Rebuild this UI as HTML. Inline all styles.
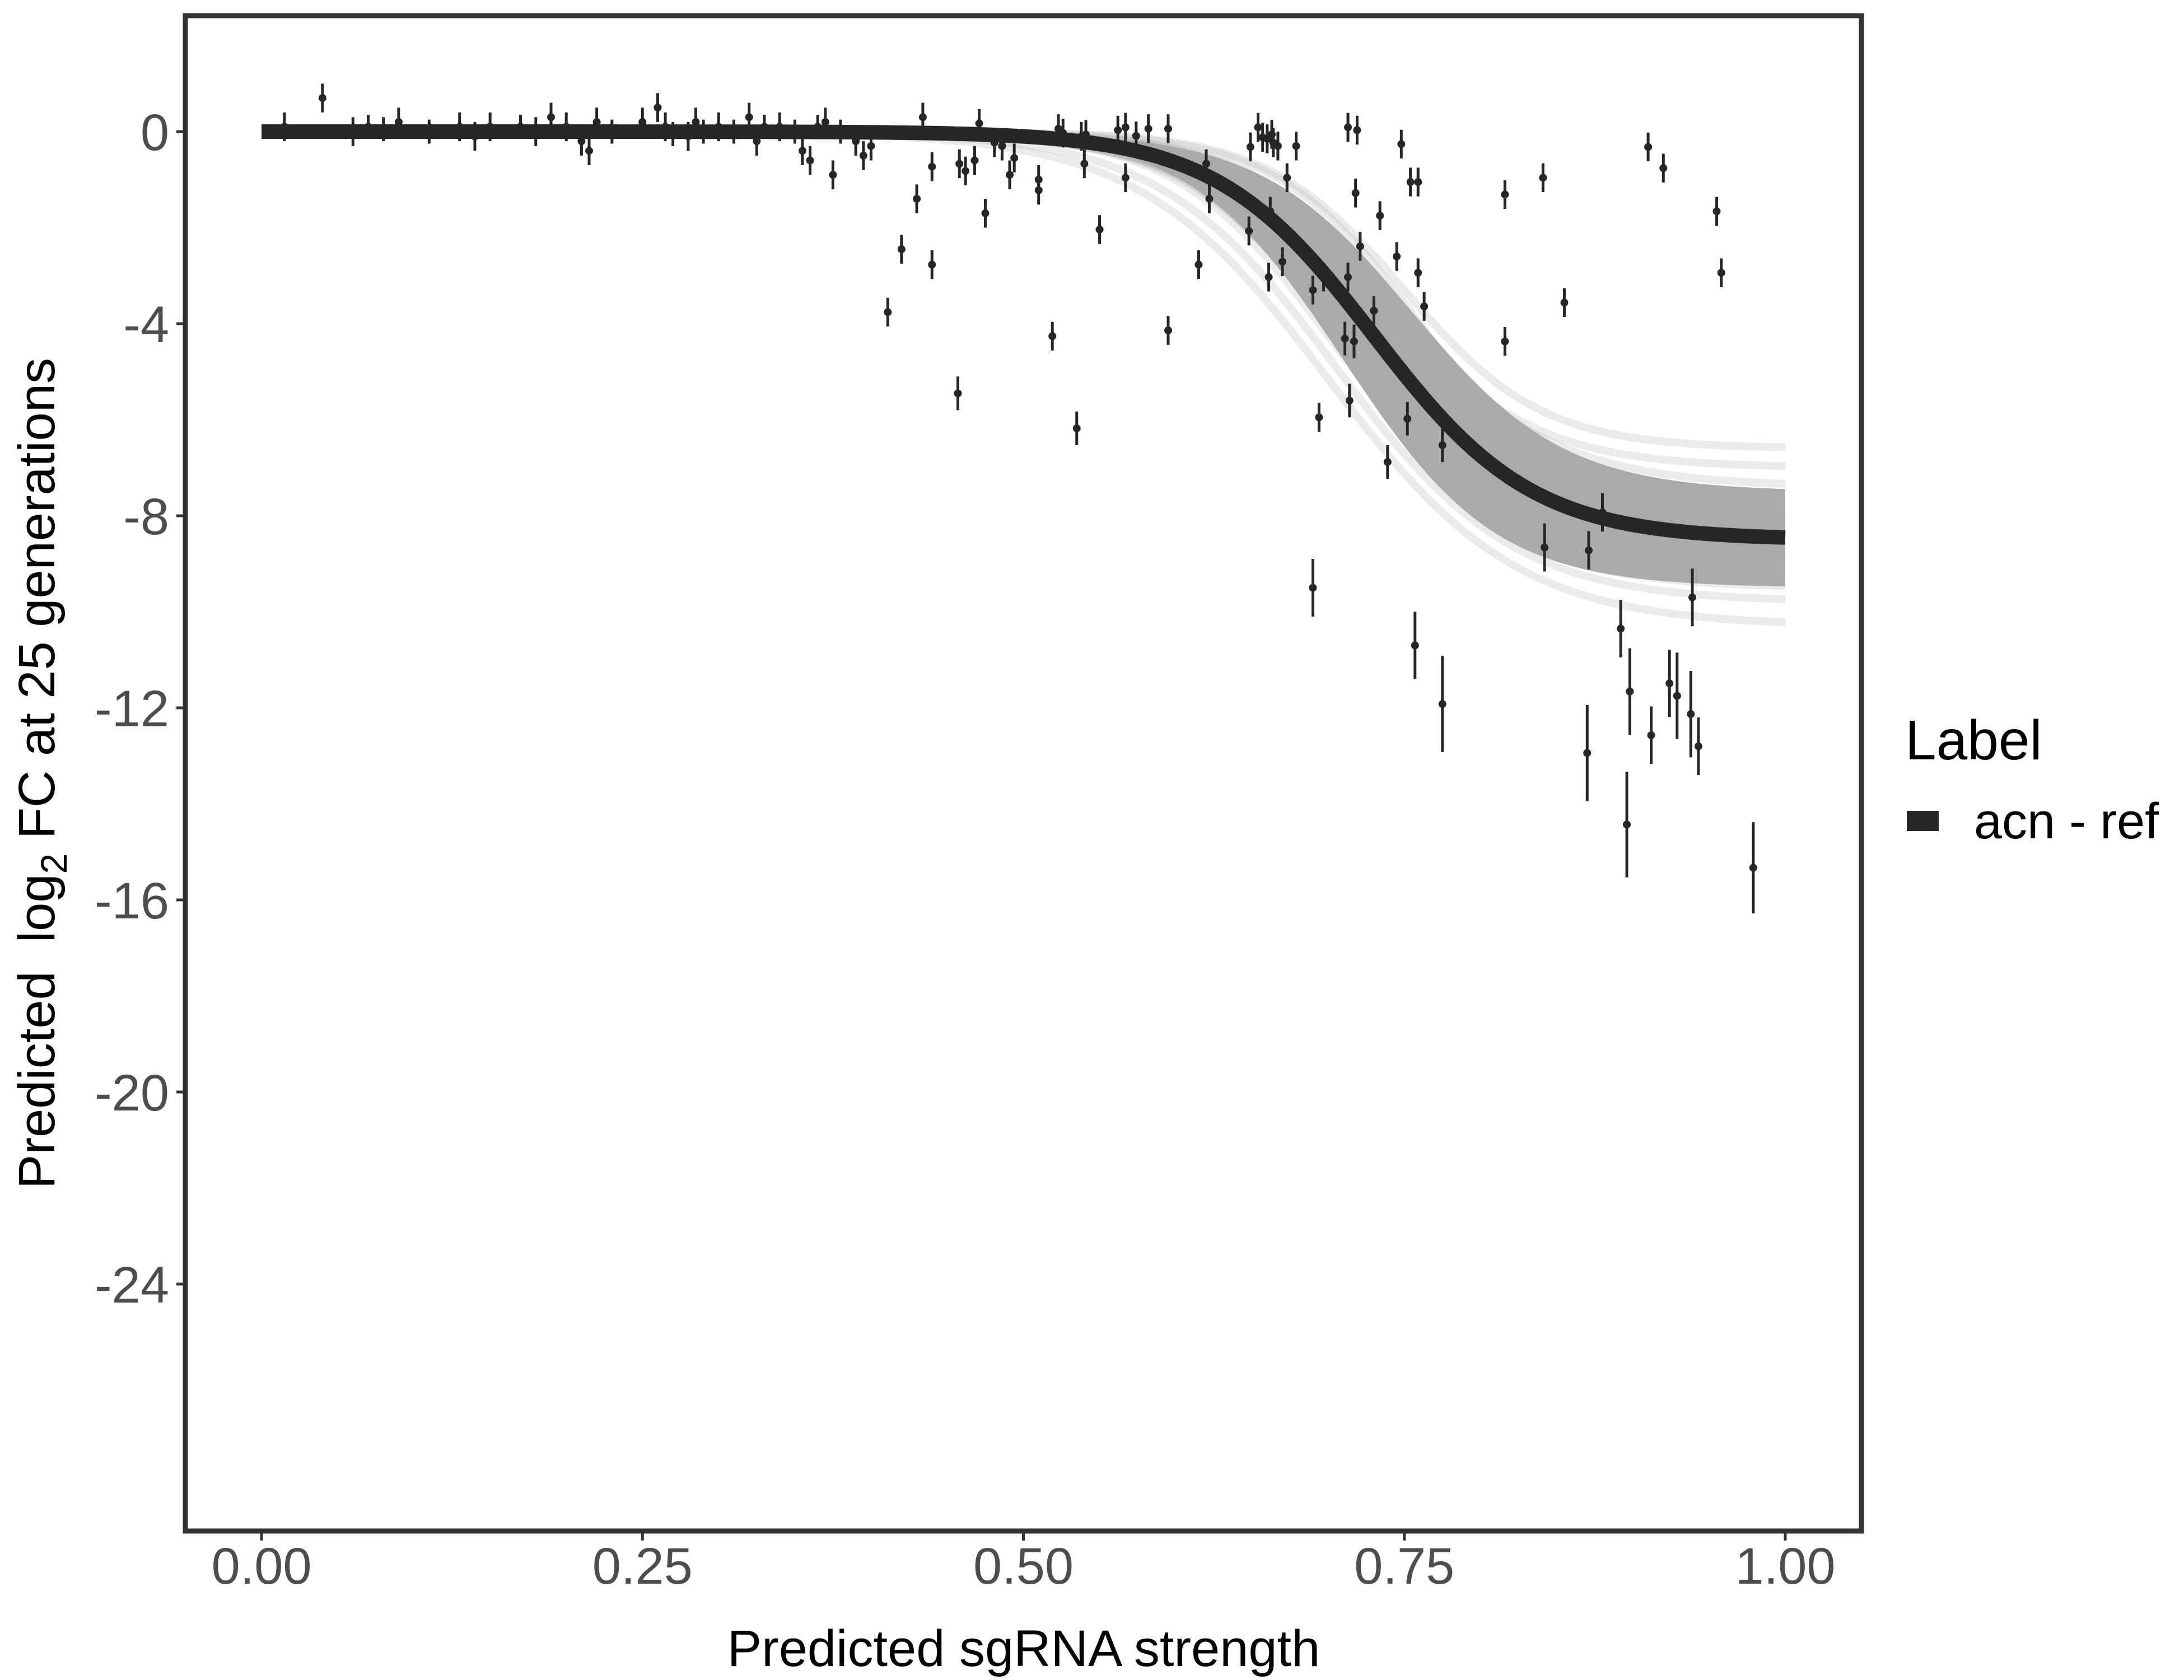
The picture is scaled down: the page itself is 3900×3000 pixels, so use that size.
<!DOCTYPE html>
<html><head><meta charset="utf-8"><style>
html,body{margin:0;padding:0;background:#fff;}
svg{display:block;font-family:"Liberation Sans",sans-serif;}
</style></head><body>
<svg id="chart" width="3900" height="3000" viewBox="0 0 3900 3000" xmlns="http://www.w3.org/2000/svg">
<rect x="0" y="0" width="3900" height="3000" fill="#fff"/>
<g id="ribbon"></g>
<g id="points"></g>
<path id="fit" fill="none" stroke="#262626" stroke-width="26"/>
<rect x="331" y="28" width="2993" height="2706" fill="none" stroke="#333" stroke-width="9"/>
<g id="xaxis"></g>
<g id="yaxis"></g>
<text x="1828" y="2975" font-size="92" text-anchor="middle" fill="#000">Predicted sgRNA strength</text>
<text transform="translate(97,1381) rotate(-90)" font-size="92" text-anchor="middle" fill="#000">Predicted&#160; log<tspan font-size="66" dy="22">2</tspan><tspan dy="-22"> FC at 25 generations</tspan></text>
<g>
<text x="3402" y="1356" font-size="100" fill="#000">Label</text>
<rect x="3405" y="1448" width="57" height="36" fill="#262626"/>
<text x="3525" y="1497" font-size="90" fill="#000">acn - ref</text>
</g>
</svg>
<script>
const xTicks=[0,0.25,0.5,0.75,1];
const xTickLabels=["0.00","0.25","0.50","0.75","1.00"];
const yTicks=[0,-4,-8,-12,-16,-20,-24];
const yTickLabels=["0","-4","-8","-12","-16","-20","-24"];
const fitAsym=-8.5, fitMid=0.73, fitScale=0.052;
const coreAsym=[-7.5,-9.5,-8.0,-9.0];
const coreMid=[0.755,0.71,0.705,0.75];
const coreScale=[0.05,0.05,0.05,0.05];
const ribbonAsym=[-7.0,-7.4,-7.7,-7.9,-8.0,-8.1,-8.2,-8.3,-8.4,-8.5,-8.6,-8.7,-8.8,-8.9,-9.0,-9.1,-9.3,-9.5,-9.8,-10.3,-6.6,-8.2,-8.8,-9.2,-7.8,-8.5,-9.0,-8.0];
const ribbonMid=[0.735,0.74,0.73,0.745,0.72,0.735,0.725,0.74,0.73,0.72,0.735,0.725,0.715,0.73,0.72,0.71,0.725,0.715,0.705,0.70,0.75,0.755,0.745,0.71,0.72,0.70,0.74,0.76];
const ribbonScale=[0.05,0.055,0.05,0.048,0.052,0.05,0.054,0.05,0.053,0.05,0.056,0.051,0.05,0.058,0.052,0.05,0.055,0.052,0.058,0.062,0.045,0.05,0.06,0.048,0.056,0.05,0.053,0.047];
const px=[0.015,0.04,0.06,0.07,0.08,0.09,0.11,0.13,0.14,0.15,0.17,0.18,0.19,0.2,0.21,0.215,0.22,0.23,0.25,0.26,0.265,0.27,0.28,0.285,0.29,0.3,0.31,0.32,0.325,0.33,0.34,0.35,0.355,0.36,0.365,0.37,0.375,0.38,0.39,0.395,0.4,
0.411,0.42,0.43,0.434,0.44,0.44,0.457,0.458,0.462,0.468,0.471,0.475,0.481,0.486,0.491,0.494,0.51,0.51,0.519,0.523,0.526,0.535,0.538,0.54,0.541,0.55,0.562,0.567,0.567,0.574,0.582,0.595,0.595,0.615,0.62,0.622,0.648,0.649,0.654,0.657,0.66,0.661,0.662,0.663,0.664,0.667,0.67,0.673,0.679,0.69,0.69,0.694,0.697,0.711,0.713,0.713,0.714,0.717,0.718,0.719,0.721,0.73,0.734,0.739,0.745,0.748,0.752,0.754,0.757,0.759,0.759,0.763,0.775,0.775,0.816,0.816,0.841,0.842,0.855,0.87,0.871,0.88,0.892,0.896,0.898,0.91,0.912,0.92,0.924,0.929,0.938,0.939,0.943,0.955,0.958,0.979];
const py=[0.1,0.7,0,0.1,0.05,0.2,0,0.1,-0.1,0.1,0.1,0,0.3,0.1,-0.2,-0.4,0.2,0,0.2,0.5,0.1,-0.05,-0.1,0.2,0,0.1,0,0.3,-0.2,0.1,0.1,0,-0.4,-0.6,0.1,0.2,-0.9,0,-0.2,-0.5,-0.3,
-3.76,-2.45,-1.4,0.3,-0.73,-2.77,-5.45,-0.67,-0.82,-0.6,0.17,-1.7,-0.23,-0.3,-0.9,-0.55,-1.0,-1.22,-4.26,0.06,-0.03,-6.18,-0.1,-0.67,-0.06,-2.04,0.03,0.09,-0.96,-0.09,0.06,0.06,-4.14,-2.77,-0.67,-1.4,-2.07,-0.32,0.09,-0.12,-0.15,-3.03,-1.66,-0.06,-0.23,-0.3,-2.71,-0.96,-0.3,-9.5,-3.3,-5.95,-3.03,-4.31,0.09,-3.03,-5.6,-4.37,-1.28,0.03,-2.39,-3.73,-1.75,-6.88,-2.6,-0.26,-5.98,-1.05,-10.7,-1.05,-2.94,-3.64,-6.53,-11.92,-1.31,-4.37,-0.96,-8.66,-3.56,-12.94,-8.72,-7.93,-10.35,-14.43,-11.66,-0.32,-12.57,-0.76,-11.49,-11.75,-12.13,-9.7,-12.8,-1.66,-2.94,-15.33];
const perr=[0.3,0.3,0.3,0.25,0.25,0.3,0.25,0.3,0.3,0.3,0.25,0.3,0.3,0.3,0.3,0.3,0.3,0.25,0.3,0.3,0.3,0.25,0.3,0.3,0.25,0.3,0.25,0.3,0.3,0.25,0.3,0.25,0.3,0.3,0.25,0.3,0.3,0.25,0.3,0.3,0.3,
0.3,0.3,0.3,0.3,0.3,0.3,0.35,0.3,0.3,0.3,0.3,0.3,0.3,0.3,0.3,0.3,0.3,0.3,0.3,0.3,0.3,0.35,0.3,0.3,0.3,0.3,0.3,0.3,0.3,0.3,0.3,0.3,0.3,0.3,0.3,0.3,0.3,0.3,0.3,0.3,0.3,0.3,0.3,0.3,0.3,0.3,0.3,0.3,0.3,0.6,0.3,0.3,0.3,0.35,0.3,0.3,0.35,0.35,0.3,0.3,0.3,0.3,0.3,0.35,0.3,0.3,0.35,0.3,0.7,0.3,0.3,0.3,0.35,1.0,0.3,0.3,0.3,0.5,0.3,1.0,0.4,0.4,0.6,1.1,0.9,0.3,0.6,0.3,0.7,0.9,0.9,0.6,0.6,0.3,0.3,0.95];

const NS="http://www.w3.org/2000/svg";
const X0=467, XU=2721, Y0=235, YU=85.75;
function sx(v){return X0+v*XU;}
function sy(v){return Y0-v*YU;}
function sig(x,a,m,s){return a/(1+Math.exp(-(x-m)/s));}
function curvePath(a,m,s){let d="";for(let i=0;i<=200;i++){const x=i/200;d+=(i?"L":"M")+sx(x).toFixed(1)+","+sy(sig(x,a,m,s)).toFixed(1);}return d;}

const rib=document.getElementById('ribbon');
for(let i=0;i<ribbonAsym.length;i++){
  const p=document.createElementNS(NS,'path');
  p.setAttribute('d',curvePath(ribbonAsym[i],ribbonMid[i],ribbonScale[i]));
  p.setAttribute('fill','none');p.setAttribute('stroke','#b0b0b0');
  p.setAttribute('stroke-width','14');p.setAttribute('stroke-opacity','0.25');
  
  
  rib.appendChild(p);
}
// dense core band
let up=[],lo=[];
for(let i=0;i<=200;i++){
  const x=i/200;
  const vals=coreAsym.map((a,k)=>sig(x,a,coreMid[k],coreScale[k]));
  up.push(sx(x).toFixed(1)+","+sy(Math.max(...vals)).toFixed(1));
  lo.push(sx(x).toFixed(1)+","+sy(Math.min(...vals)).toFixed(1));
}
const band=document.createElementNS(NS,'polygon');
band.setAttribute('points',up.concat(lo.reverse()).join(' '));
band.setAttribute('fill','#aaaaaa');


rib.appendChild(band);

const fit=document.getElementById('fit');
fit.setAttribute('d',curvePath(fitAsym,fitMid,fitScale));

const pts=document.getElementById('points');
for(let i=0;i<px.length;i++){
  const g=document.createElementNS(NS,'g');
  
  
  const l=document.createElementNS(NS,'line');
  l.setAttribute('x1',sx(px[i]));l.setAttribute('x2',sx(px[i]));
  l.setAttribute('y1',sy(py[i]+perr[i]));l.setAttribute('y2',sy(py[i]-perr[i]));
  l.setAttribute('stroke','#262626');l.setAttribute('stroke-width','5');
  
  
  const c=document.createElementNS(NS,'circle');
  c.setAttribute('cx',sx(px[i]));c.setAttribute('cy',sy(py[i]));c.setAttribute('r','7');
  c.setAttribute('fill','#262626');
  
  
  g.appendChild(l);g.appendChild(c);pts.appendChild(g);
}

const xa=document.getElementById('xaxis');
xTicks.forEach((t,i)=>{
  const l=document.createElementNS(NS,'line');
  l.setAttribute('x1',sx(t));l.setAttribute('x2',sx(t));l.setAttribute('y1',2738);l.setAttribute('y2',2751);
  l.setAttribute('stroke','#333');l.setAttribute('stroke-width','5');
  
  
  xa.appendChild(l);
  const tx=document.createElementNS(NS,'text');
  tx.setAttribute('x',sx(t));tx.setAttribute('y',2828);tx.setAttribute('text-anchor','middle');
  tx.setAttribute('font-size','92');tx.setAttribute('fill','#4d4d4d');
  tx.textContent=xTickLabels[i];
  
  
  xa.appendChild(tx);
});
const ya=document.getElementById('yaxis');
yTicks.forEach((t,i)=>{
  const l=document.createElementNS(NS,'line');
  l.setAttribute('x1',315);l.setAttribute('x2',327);l.setAttribute('y1',sy(t));l.setAttribute('y2',sy(t));
  l.setAttribute('stroke','#333');l.setAttribute('stroke-width','5');
  
  
  ya.appendChild(l);
  const tx=document.createElementNS(NS,'text');
  tx.setAttribute('x',302);tx.setAttribute('y',sy(t)+33);tx.setAttribute('text-anchor','end');
  tx.setAttribute('font-size','92');tx.setAttribute('fill','#4d4d4d');
  tx.textContent=yTickLabels[i];
  
  
  ya.appendChild(tx);
});
</script>
</body></html>
